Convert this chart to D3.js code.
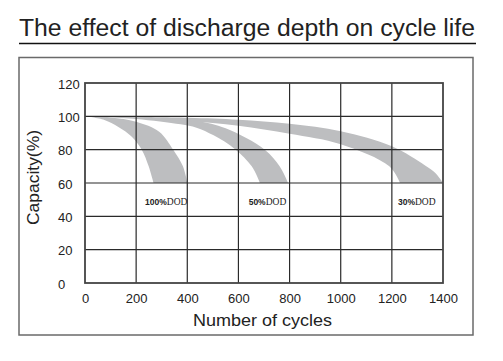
<!DOCTYPE html>
<html>
<head>
<meta charset="utf-8">
<script src="https://cdn.jsdelivr.net/npm/d3@7"></script>
<style>
  body { margin: 0; background: #fff; }
  text { font-family: "Liberation Sans", Arial, sans-serif; fill: #222; }
</style>
</head>
<body>
<script>
// tick values
const xTicks = [0, 200, 400, 600, 800, 1000, 1200, 1400];
const yTicks = [0, 20, 40, 60, 80, 100, 120];

// band edges, [cycles, capacity %]
const dod100Inner = [[0,100],[76,97.8],[129,93.8],[183,87.8],[222,80],[249,70],[268,60]];
const dod100Outer = [[0,100],[100,99.3],[200,96.8],[290,90.8],[345,80],[383,70],[400,60]];
const dod50Inner = [[0,100],[200,98.4],[374,95.2],[436,93.2],[503,88.6],[587,80.3],[652,70],[684,60]];
const dod50Outer = [[0,100],[250,99.2],[436,97.4],[550,92.8],[703,80],[761,70],[794,60]];
const dod30Inner = [[0,100],[200,99.3],[400,97.2],[600,94.4],[800,89.6],[1000,83.3],[1190,70],[1232,60]];
const dod30Outer = [[0,100],[400,99.1],[600,97.9],[800,95.5],[1000,91],[1200,82],[1330,70.5],[1370,66],[1400,60]];

// labels
const bandNames = ["100%DOD", "50%DOD", "30%DOD"];
const labelX = [235, 640, 1224];
const labelY = 49;

const width = 503, height = 361;
const svg = d3.select("body").append("svg")
    .attr("width", width)
    .attr("height", height);

// title + underline
svg.append("text")
    .attr("x", 19).attr("y", 36)
    .attr("textLength", 456)
    .attr("lengthAdjust", "spacingAndGlyphs")
    .style("font-size", "23px")
    .text("The effect of discharge depth on cycle life");
svg.append("line")
    .attr("x1", 19).attr("x2", 476)
    .attr("y1", 43.5).attr("y2", 43.5)
    .attr("stroke", "#111").attr("stroke-width", 1.5);

// outer box
svg.append("rect")
    .attr("x", 19).attr("y", 57.5)
    .attr("width", 454).attr("height", 277.5)
    .attr("fill", "none")
    .attr("stroke", "#6a6a6a").attr("stroke-width", 1.5);

const x = d3.scaleLinear().domain([0, 1400]).range([85, 443]);
const y = d3.scaleLinear().domain([0, 120]).range([283, 83]);

// bands
const line = d3.line()
    .x(d => x(d[0]))
    .y(d => y(d[1]))
    .curve(d3.curveCatmullRom.alpha(0.5));

function bandPath(inner, outer) {
  const a = line(outer);
  const b = line(inner.slice().reverse()).replace(/^M/, "L");
  return a + b + "Z";
}

const bands = [[dod100Inner, dod100Outer], [dod50Inner, dod50Outer], [dod30Inner, dod30Outer]];
svg.append("g").selectAll("path")
    .data(bands)
    .join("path")
    .attr("d", d => bandPath(d[0], d[1]))
    .attr("fill", "#bdbec0");

// grid
const grid = svg.append("g")
    .attr("stroke", "#2a2a2a")
    .attr("stroke-width", 1.2);
grid.selectAll(".v")
    .data(xTicks.slice(1, -1))
    .join("line")
    .attr("x1", d => x(d)).attr("x2", d => x(d))
    .attr("y1", y(120)).attr("y2", y(0));
grid.selectAll(".h")
    .data(yTicks.slice(1, -1))
    .join("line")
    .attr("x1", x(0)).attr("x2", x(1400))
    .attr("y1", d => y(d)).attr("y2", d => y(d));

svg.append("rect")
    .attr("x", x(0)).attr("y", y(120))
    .attr("width", x(1400) - x(0)).attr("height", y(0) - y(120))
    .attr("fill", "none")
    .attr("stroke", "#444").attr("stroke-width", 1.8);

// axes (labels only)
const xAxis = svg.append("g")
    .attr("transform", `translate(0,${y(0)})`)
    .call(d3.axisBottom(x).tickValues(xTicks).tickFormat(d3.format("d")).tickSize(0).tickPadding(11));
xAxis.select(".domain").remove();
xAxis.selectAll("text")
    .style("font-size", "13px")
    .style("font-family", "Liberation Sans, Arial, sans-serif")
    .attr("fill", "#222");

const yAxis = svg.append("g")
    .attr("transform", `translate(58,0)`)
    .call(d3.axisLeft(y).tickValues(yTicks).tickSize(0).tickPadding(0));
yAxis.select(".domain").remove();
yAxis.selectAll("text")
    .attr("text-anchor", "start")
    .attr("dy", "0.4em")
    .style("font-size", "13px")
    .style("font-family", "Liberation Sans, Arial, sans-serif")
    .attr("fill", "#222");

// axis titles
svg.append("text")
    .attr("x", 193).attr("y", 326)
    .attr("textLength", 139)
    .attr("lengthAdjust", "spacingAndGlyphs")
    .style("font-size", "17px")
    .text("Number of cycles");
svg.append("text")
    .attr("transform", `translate(39,225) rotate(-90)`)
    .attr("textLength", 95)
    .attr("lengthAdjust", "spacingAndGlyphs")
    .style("font-size", "17px")
    .text("Capacity(%)");

// band labels
const lab = svg.append("g").selectAll("text")
    .data(bandNames)
    .join("text")
    .attr("x", (d, i) => x(labelX[i]))
    .attr("y", y(labelY) + 3.5)
    .style("font-family", "Liberation Serif, Times New Roman, serif")
    .style("font-size", "9.5px");
lab.append("tspan")
    .style("font-weight", "bold")
    .style("font-family", "Liberation Sans, Arial, sans-serif")
    .style("font-size", "8.5px")
    .text(d => d.replace("DOD", ""));
lab.append("tspan")
    .text("DOD");
</script>
</body>
</html>
